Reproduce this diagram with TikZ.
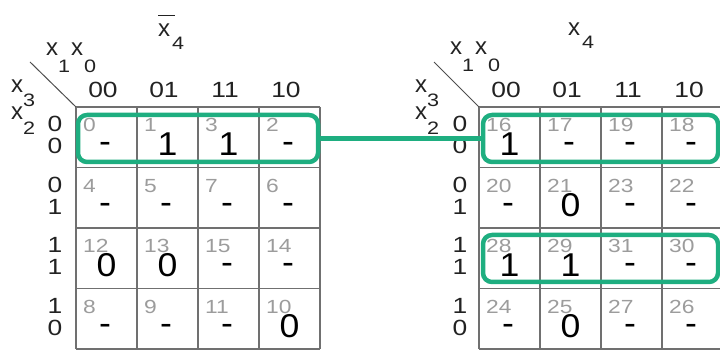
\documentclass[tikz,border=0pt]{standalone}
\usepackage{fontspec}
\setmainfont{Liberation Sans}
\newfontfamily\widefont[FakeStretch=1.2]{Liberation Sans}
\newfontfamily\valfamily[FakeStretch=1.08]{Liberation Sans}
\definecolor{kgreen}{HTML}{1EAE80}
\definecolor{kgrid}{HTML}{707070}
\definecolor{kidx}{HTML}{9C9C9C}
\definecolor{ktext}{HTML}{222222}
\newcommand\ksub[2]{\raisebox{-#2}{\widefont\fontsize{18}{18}\selectfont #1}}
\newcommand\kd{\raisebox{3pt}{-}\kern3pt}
\tikzset{
  idx/.style={anchor=base west, inner sep=0pt, text=kidx, font=\widefont\fontsize{19}{19}\selectfont},
  val/.style={anchor=base, inner sep=0pt, text=black, font=\valfamily\fontsize{33}{33}\selectfont},
  hdr/.style={anchor=base, inner sep=0pt, text=ktext, font=\widefont\fontsize{22}{22}\selectfont},
  lbl/.style={anchor=base west, inner sep=0pt, text=ktext, font=\fontsize{24}{24}\selectfont},
  gridline/.style={draw=kgrid, line width=1.6pt},
  gbox/.style={draw=kgreen, line width=4.5pt, rounded corners=9pt, inner sep=0pt},
  gline/.style={draw=kgreen, line width=4.5pt},
  diag/.style={draw=ktext!80, line width=1pt}
}
\begin{document}
\begin{tikzpicture}[x=1pt,y=-1pt]
\useasboundingbox (0,0) rectangle (720,352);
% ---------- grids ----------
\foreach \ox in {76,479}{
  \foreach \i in {0,...,4}{
    \draw[gridline] ({\ox+\i*61},107) -- ({\ox+\i*61},349);
    \draw[gridline] (\ox,{107+\i*60.5}) -- ({\ox+244},{107+\i*60.5});
  }
}
% ---------- left map cells ----------
\foreach \n/\v [count=\k from 0] in {0/\kd,1/1,3/1,2/\kd,4/\kd,5/\kd,7/\kd,6/\kd,12/0,13/0,15/\kd,14/\kd,8/\kd,9/\kd,11/\kd,10/0}{
  \pgfmathtruncatemacro\r{int(\k/4)}
  \pgfmathtruncatemacro\c{mod(\k,4)}
  \node[idx] (Li\n) at ({76+\c*61+7},{107+\r*60.5+25}) {\n};
  \node[val] (Lv\n) at ({76+\c*61+30.5},{107+\r*60.5+49}) {\v};
}
% ---------- right map cells ----------
\foreach \n/\v [count=\k from 0] in {16/1,17/\kd,19/\kd,18/\kd,20/\kd,21/0,23/\kd,22/\kd,28/1,29/1,31/\kd,30/\kd,24/\kd,25/0,27/\kd,26/\kd}{
  \pgfmathtruncatemacro\r{int(\k/4)}
  \pgfmathtruncatemacro\c{mod(\k,4)}
  \node[idx] (Ri\n) at ({479+\c*61+7},{107+\r*60.5+25}) {\n};
  \node[val] (Rv\n) at ({479+\c*61+30.5},{107+\r*60.5+49}) {\v};
}
% ---------- column headers ----------
\foreach \h [count=\c from 0] in {00,01,11,10}{
  \node[hdr] (Lc\c) at ({76+\c*61+27},98) {\h};
  \node[hdr] (Rc\c) at ({479+\c*61+27},98) {\h};
}
% ---------- row headers ----------
\foreach \a/\b [count=\r from 0] in {0/0,0/1,1/1,1/0}{
  \node[hdr] (Lra\r) at (55,{107+\r*60.5+25}) {\a};
  \node[hdr] (Lrb\r) at (55,{107+\r*60.5+47}) {\b};
  \node[hdr] (Rra\r) at (460,{107+\r*60.5+25}) {\a};
  \node[hdr] (Rrb\r) at (460,{107+\r*60.5+47}) {\b};
}
% ---------- variable labels ----------
\node[lbl] (Ltitle) at (158,37) {\rlap{\raisebox{21pt}{\rule{17pt}{1pt}}}x\kern2pt\ksub{4}{13pt}};
\node[lbl] (Rtitle) at (568,36) {x\kern2pt\ksub{4}{13pt}};
\node[lbl] (Lx10) at (46,56) {x\ksub{1}{17pt}\kern1pt x\kern1pt\ksub{0}{17pt}};
\node[lbl] (Rx10) at (450,55) {x\ksub{1}{17pt}\kern1pt x\kern1pt\ksub{0}{17pt}};
\node[lbl] (Lx3) at (11,93) {x\ksub{3}{14pt}};
\node[lbl] (Lx2) at (11,120) {x\ksub{2}{15pt}};
\node[lbl] (Rx3) at (415,93) {x\ksub{3}{14pt}};
\node[lbl] (Rx2) at (415,120) {x\ksub{2}{15pt}};
% ---------- diagonals ----------
\coordinate (Ld1) at (30,62); \coordinate (Ld2) at (76,107);
\coordinate (Rd1) at (434,62); \coordinate (Rd2) at (479,107);
\draw[diag] (Ld1) -- (Ld2);
\draw[diag] (Rd1) -- (Rd2);
% ---------- groups ----------
\node[gbox, minimum width=240pt, minimum height=47pt] (LB) at (198,138.5) {};
\node[gbox, minimum width=235pt, minimum height=47pt] (RB) at (600.5,138.5) {};
\node[gbox, minimum width=235pt, minimum height=47pt] (RB2) at (600.5,258.5) {};
\draw[gline] (LB.east) -- (RB.west);
\end{tikzpicture}
\end{document}
